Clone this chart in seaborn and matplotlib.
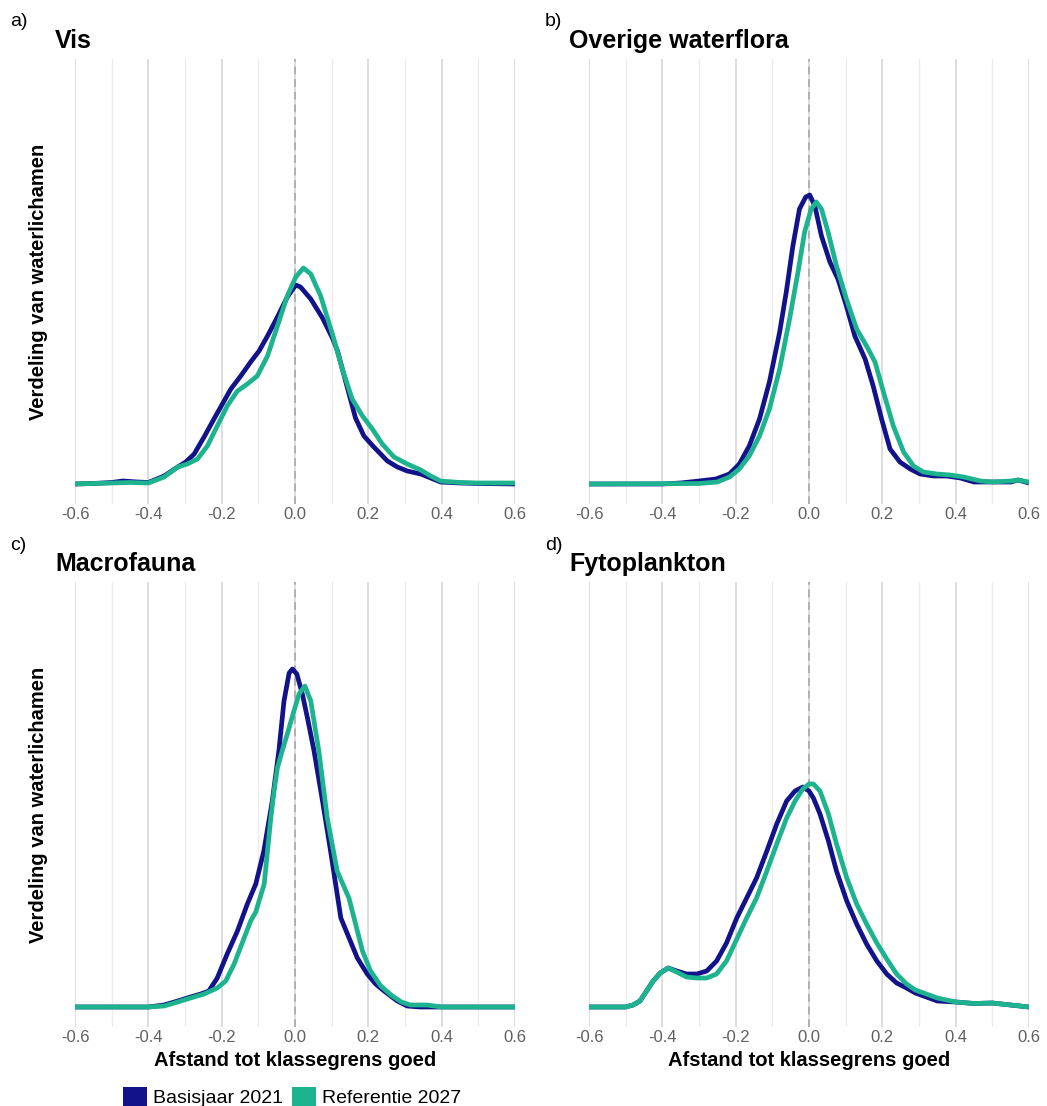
import pandas as pd
import seaborn as sns
import matplotlib.pyplot as plt
from matplotlib.patches import Patch

# Density curves (x = afstand, y = dichtheid)
vis_basis_x = [-0.60, -0.55, -0.50, -0.47, -0.43, -0.40, -0.357, -0.32, -0.298, -0.275, -0.248, -0.221,
               -0.198, -0.175, -0.148, -0.121, -0.098, -0.075, -0.048, -0.021, 0.002, 0.015, 0.043, 0.075,
               0.102, 0.116, 0.143, 0.165, 0.188, 0.215, 0.252, 0.279, 0.306, 0.343, 0.37, 0.397, 0.45, 0.50, 0.60]
vis_basis_y = [0.00, 0.005, 0.015, 0.03, 0.02, 0.015, 0.08, 0.17, 0.22, 0.30, 0.47, 0.65,
               0.80, 0.95, 1.08, 1.22, 1.33, 1.48, 1.67, 1.87, 1.99, 1.97, 1.85, 1.66,
               1.46, 1.33, 0.96, 0.66, 0.48, 0.37, 0.23, 0.17, 0.13, 0.10, 0.06, 0.02, 0.01, 0.005, 0.00]
vis_ref_x = [-0.60, -0.50, -0.45, -0.40, -0.357, -0.32, -0.294, -0.266, -0.239, -0.212, -0.185, -0.157,
             -0.13, -0.103, -0.075, -0.048, -0.021, 0.002, 0.023, 0.043, 0.07, 0.102, 0.129, 0.156,
             0.184, 0.211, 0.238, 0.27, 0.306, 0.343, 0.37, 0.397, 0.45, 0.50, 0.55, 0.60]
vis_ref_y = [0.00, 0.01, 0.015, 0.01, 0.07, 0.17, 0.20, 0.25, 0.38, 0.58, 0.78, 0.93,
             1.00, 1.08, 1.28, 1.58, 1.88, 2.07, 2.16, 2.10, 1.88, 1.50, 1.15, 0.85,
             0.68, 0.55, 0.40, 0.27, 0.20, 0.14, 0.08, 0.03, 0.015, 0.01, 0.01, 0.01]

flora_basis_x = [-0.60, -0.40, -0.35, -0.30, -0.254, -0.217, -0.19, -0.163, -0.135, -0.108, -0.08, -0.062,
                 -0.044, -0.026, -0.009, 0.002, 0.016, 0.034, 0.057, 0.079, 0.102, 0.125, 0.153, 0.175,
                 0.198, 0.221, 0.248, 0.276, 0.303, 0.34, 0.376, 0.413, 0.45, 0.50, 0.55, 0.57, 0.60]
flora_basis_y = [0.00, 0.00, 0.01, 0.03, 0.05, 0.10, 0.20, 0.38, 0.65, 1.02, 1.52, 1.92,
                 2.38, 2.75, 2.87, 2.89, 2.78, 2.48, 2.22, 2.05, 1.78, 1.48, 1.25, 0.98,
                 0.65, 0.35, 0.22, 0.15, 0.10, 0.08, 0.08, 0.06, 0.02, 0.02, 0.02, 0.04, 0.01]
flora_ref_x = [-0.60, -0.30, -0.25, -0.217, -0.19, -0.163, -0.135, -0.108, -0.08, -0.053, -0.03, -0.012,
               0.006, 0.02, 0.034, 0.052, 0.075, 0.102, 0.13, 0.157, 0.18, 0.203, 0.23, 0.258,
               0.285, 0.312, 0.349, 0.385, 0.422, 0.468, 0.50, 0.55, 0.57, 0.60]
flora_ref_y = [0.00, 0.005, 0.02, 0.07, 0.15, 0.28, 0.48, 0.75, 1.15, 1.65, 2.12, 2.52,
               2.75, 2.82, 2.75, 2.52, 2.18, 1.85, 1.55, 1.38, 1.22, 0.92, 0.58, 0.32,
               0.18, 0.12, 0.10, 0.09, 0.07, 0.03, 0.02, 0.03, 0.04, 0.02]

macro_basis_x = [-0.60, -0.40, -0.357, -0.32, -0.285, -0.257, -0.235, -0.212, -0.185, -0.157, -0.13, -0.107,
                 -0.085, -0.062, -0.044, -0.03, -0.016, -0.007, 0.005, 0.02, 0.034, 0.052, 0.075, 0.097,
                 0.125, 0.143, 0.17, 0.197, 0.22, 0.243, 0.279, 0.306, 0.34, 0.60]
macro_basis_y = [0.00, 0.00, 0.02, 0.06, 0.10, 0.13, 0.16, 0.29, 0.53, 0.76, 1.03, 1.23,
                 1.56, 2.06, 2.56, 3.06, 3.34, 3.38, 3.33, 3.13, 2.89, 2.56, 2.06, 1.56,
                 0.89, 0.73, 0.49, 0.33, 0.23, 0.16, 0.06, 0.01, 0.00, 0.00]
macro_ref_x = [-0.60, -0.40, -0.357, -0.32, -0.285, -0.248, -0.212, -0.189, -0.166, -0.144, -0.121, -0.107,
               -0.084, -0.075, -0.066, -0.057, -0.048, -0.035, -0.021, -0.003, 0.011, 0.027, 0.043, 0.065,
               0.088, 0.115, 0.147, 0.161, 0.184, 0.206, 0.234, 0.262, 0.29, 0.315, 0.36, 0.40, 0.60]
macro_ref_y = [0.00, 0.00, 0.01, 0.05, 0.09, 0.13, 0.19, 0.26, 0.43, 0.64, 0.86, 0.95,
               1.23, 1.56, 1.89, 2.16, 2.39, 2.56, 2.73, 2.96, 3.13, 3.21, 3.06, 2.56,
               1.89, 1.36, 1.09, 0.89, 0.56, 0.36, 0.21, 0.12, 0.05, 0.02, 0.02, 0.00, 0.00]

fyto_basis_x = [-0.60, -0.50, -0.48, -0.461, -0.443, -0.425, -0.406, -0.384, -0.361, -0.334, -0.306, -0.279,
                -0.252, -0.225, -0.197, -0.17, -0.143, -0.115, -0.088, -0.061, -0.038, -0.017, 0.0, 0.012,
                0.03, 0.053, 0.075, 0.103, 0.13, 0.157, 0.185, 0.212, 0.239, 0.266, 0.29, 0.32, 0.35,
                0.40, 0.45, 0.50, 0.55, 0.60]
fyto_basis_y = [0.00, 0.00, 0.02, 0.06, 0.16, 0.26, 0.34, 0.39, 0.36, 0.33, 0.33, 0.36,
                0.46, 0.64, 0.89, 1.09, 1.29, 1.56, 1.83, 2.06, 2.16, 2.20, 2.16, 2.09,
                1.93, 1.66, 1.36, 1.06, 0.83, 0.63, 0.46, 0.33, 0.24, 0.19, 0.14, 0.10, 0.06,
                0.05, 0.035, 0.04, 0.02, 0.00]
fyto_ref_x = [-0.60, -0.50, -0.48, -0.461, -0.443, -0.425, -0.406, -0.384, -0.361, -0.334, -0.306, -0.279,
              -0.252, -0.225, -0.197, -0.17, -0.143, -0.115, -0.088, -0.061, -0.038, -0.017, 0.0, 0.012,
              0.03, 0.053, 0.075, 0.103, 0.13, 0.157, 0.185, 0.212, 0.239, 0.266, 0.29, 0.32, 0.35,
              0.40, 0.45, 0.50, 0.55, 0.60]
fyto_ref_y = [0.00, 0.00, 0.02, 0.06, 0.16, 0.26, 0.34, 0.39, 0.35, 0.30, 0.29, 0.29,
              0.33, 0.46, 0.68, 0.89, 1.09, 1.36, 1.63, 1.89, 2.06, 2.18, 2.23, 2.23,
              2.16, 1.93, 1.63, 1.29, 1.03, 0.83, 0.64, 0.48, 0.33, 0.23, 0.17, 0.13, 0.09,
              0.05, 0.035, 0.04, 0.02, 0.00]

reeksen = ['Basisjaar 2021', 'Referentie 2027']
kleuren = {'Basisjaar 2021': '#12128a', 'Referentie 2027': '#1db38e'}
titels = ['Vis', 'Overige waterflora', 'Macrofauna', 'Fytoplankton']
letters = ['a)', 'b)', 'c)', 'd)']
x_ticks = [-0.6, -0.4, -0.2, 0.0, 0.2, 0.4, 0.6]
x_minor = [-0.5, -0.3, -0.1, 0.1, 0.3, 0.5]

curves = [
    (vis_basis_x, vis_basis_y, vis_ref_x, vis_ref_y),
    (flora_basis_x, flora_basis_y, flora_ref_x, flora_ref_y),
    (macro_basis_x, macro_basis_y, macro_ref_x, macro_ref_y),
    (fyto_basis_x, fyto_basis_y, fyto_ref_x, fyto_ref_y),
]

sns.set_style('white')
plt.rcParams['font.family'] = ['Liberation Sans', 'DejaVu Sans']
plt.rcParams['axes.unicode_minus'] = False
plt.rcParams['text.color'] = 'black'
plt.rcParams['axes.labelcolor'] = 'black'

W, H = 1047, 1106
fig = plt.figure(figsize=(W / 100, H / 100), dpi=100)

# panel positions in pixels: (left, top)
pos = [(75, 59), (589, 59), (75, 582), (589, 582)]
pw, ph = 440, 445

for i, (bx, by, rx, ry) in enumerate(curves):
    left, top = pos[i]
    ax = fig.add_axes([left / W, (H - top - ph) / H, pw / W, ph / H])

    df = pd.concat([
        pd.DataFrame({'afstand': bx, 'dichtheid': by, 'reeks': reeksen[0]}),
        pd.DataFrame({'afstand': rx, 'dichtheid': ry, 'reeks': reeksen[1]}),
    ])

    ax.axvline(0, color='#b0b0b0', lw=1.4, ls=(0, (4, 2.5)), zorder=1.5)
    sns.lineplot(data=df, x='afstand', y='dichtheid', hue='reeks', hue_order=reeksen,
                 palette=kleuren, sort=False, estimator=None, linewidth=3.4,
                 solid_joinstyle='round', solid_capstyle='butt',
                 legend=False, ax=ax, zorder=3)

    ax.set_xlim(-0.6, 0.6)
    ax.set_ylim(-0.2, 4.25)
    ax.set_xticks(x_ticks)
    ax.set_xticklabels([f'{v:.1f}' for v in x_ticks])
    ax.set_xticks(x_minor, minor=True)
    ax.set_yticks([])
    ax.grid(which='major', axis='x', color='#d4d4d4', lw=1.1)
    ax.grid(which='minor', axis='x', color='#ececec', lw=0.9)
    ax.set_axisbelow(True)
    ax.tick_params(axis='x', which='both', length=0, labelsize=12,
                   labelcolor='#606060', pad=2.5)
    for s in ax.spines.values():
        s.set_visible(False)

    ax.set_xlabel('')
    ax.set_ylabel('')
    if i in (0, 2):
        ax.set_ylabel('Verdeling van waterlichamen', fontsize=14.5,
                      fontweight='bold', va='center')
        ax.yaxis.set_label_coords(-36 / pw, 0.5)
    if i in (2, 3):
        ax.set_xlabel('Afstand tot klassegrens goed', fontsize=14.5,
                      fontweight='bold', va='center')
        ax.xaxis.set_label_coords(0.5, -34 / ph)

    ax.text(-20 / pw, 1 + 11 / ph, titels[i], transform=ax.transAxes,
            fontsize=18, fontweight='bold', ha='left', va='baseline')
    fig.text((10 if i in (0, 2) else 545) / W, 1 - (22 if i < 2 else 545) / H,
             letters[i], fontsize=14, ha='left', va='center')

handles = [Patch(facecolor=kleuren[r], edgecolor='none', label=r) for r in reeksen]
fig.legend(handles=handles, loc='center left', bbox_to_anchor=(123 / W, 1 - 1097 / H),
           ncol=2, frameon=False, fontsize=14, handlelength=1.25, handleheight=1.25,
           handletextpad=0.3, columnspacing=0.45, borderpad=0, borderaxespad=0)

fig.savefig('out.png', dpi=100)
